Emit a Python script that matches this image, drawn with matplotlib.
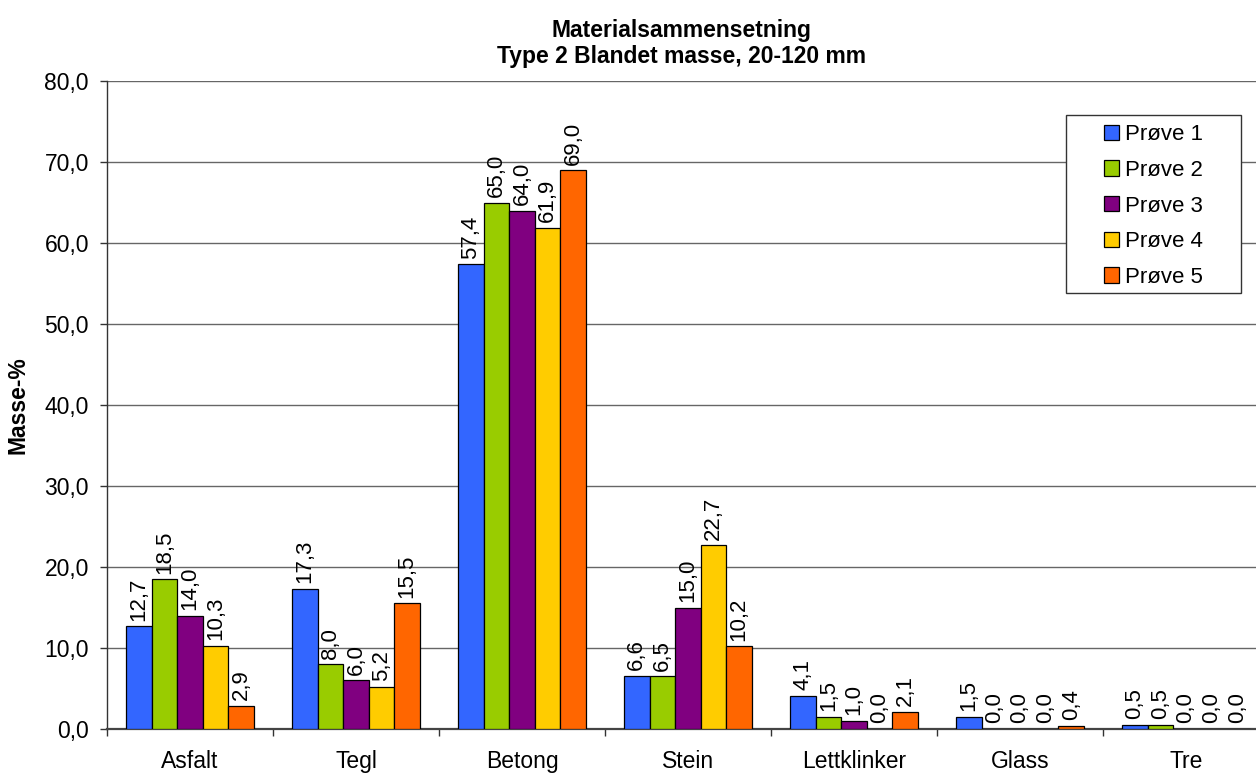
import numpy as np
import matplotlib
matplotlib.use("Agg")
import matplotlib.pyplot as plt
from matplotlib.patches import Rectangle

plt.rcParams['font.family'] = ['Liberation Sans', 'DejaVu Sans']

# Data
kategorier = ['Asfalt', 'Tegl', 'Betong', 'Stein', 'Lettklinker', 'Glass', 'Tre']
serier = ['Prøve 1', 'Prøve 2', 'Prøve 3', 'Prøve 4', 'Prøve 5']
prove1 = [12.7, 17.3, 57.4, 6.6, 4.1, 1.5, 0.5]
prove2 = [18.5, 8.0, 65.0, 6.5, 1.5, 0.0, 0.5]
prove3 = [14.0, 6.0, 64.0, 15.0, 1.0, 0.0, 0.0]
prove4 = [10.3, 5.2, 61.9, 22.7, 0.0, 0.0, 0.0]
prove5 = [2.9, 15.5, 69.0, 10.2, 2.1, 0.4, 0.0]
verdier = [prove1, prove2, prove3, prove4, prove5]
farger = ['#3366FF', '#99CC00', '#800080', '#FFCC00', '#FF6600']

yticks = np.arange(0, 81, 10)


def fmt(v):
    return f"{v:.1f}".replace('.', ',')


W, H = 1256, 775
fig = plt.figure(figsize=(W / 100, H / 100), dpi=100)
# plottområdet går litt forbi høyre kant (som i originalen)
ax = fig.add_axes([107 / W, 1 - 729 / H, (1269 - 107) / W, (729 - 81) / H])

x = np.arange(len(kategorier))
bw = 0.154
for i, (navn, vals, c) in enumerate(zip(serier, verdier, farger)):
    pos = x + (i - 2) * bw
    ax.bar(pos, vals, bw, color=c, edgecolor='black', linewidth=0.9, label=navn, zorder=3)
    for px, v in zip(pos, vals):
        ax.annotate(fmt(v), (px, v), xytext=(0, 4), textcoords='offset points',
                    rotation=90, ha='center', va='bottom', fontsize=16, zorder=4)

ax.set_xlim(-0.5, len(kategorier) - 0.5)
ax.set_ylim(0, 80)
ax.set_yticks(yticks)
ax.set_yticklabels([fmt(v) for v in yticks], fontsize=16.5)
ax.yaxis.grid(True, color='#666666', linewidth=1.0, zorder=0)
ax.set_axisbelow(True)

ax.set_xticks(np.arange(len(kategorier) + 1) - 0.5)
ax.set_xticklabels([])
ax.set_xticks(x, minor=True)
ax.set_xticklabels(kategorier, minor=True, fontsize=16.5)
ax.tick_params(axis='x', which='minor', length=0, pad=15)
ax.tick_params(axis='x', which='major', length=5, direction='out', width=1, color='#333333')
ax.tick_params(axis='y', length=5, direction='out', width=1, pad=8, color='#333333')

for s in ['top', 'right']:
    ax.spines[s].set_visible(False)
ax.spines['left'].set_linewidth(1)
ax.spines['left'].set_color('#333333')
ax.spines['bottom'].set_linewidth(1.6)
ax.spines['bottom'].set_color('#444444')

ax.set_ylabel('Masse-%', fontsize=16.5, fontweight='bold', labelpad=11)
fig.text((107 + 1256) / 2 / W, 1 - 63 / H,
         'Materialsammensetning\nType 2 Blandet masse, 20-120 mm',
         ha='center', va='baseline', fontsize=16.5, fontweight='bold', linespacing=1.15,
         multialignment='center')

# Legend med egen ramme
fig.patches.append(Rectangle((1066 / W, 1 - 293 / H), (1241 - 1066) / W, (293 - 115) / H,
                             transform=fig.transFigure, facecolor='white',
                             edgecolor='#333333', linewidth=1, zorder=5))
leg = fig.legend(*ax.get_legend_handles_labels(), loc='center',
                 bbox_to_anchor=((1066 + 1241) / 2 / W, 1 - 206 / H),
                 fontsize=16, frameon=False, handlelength=0.68, handleheight=0.68,
                 handletextpad=0.3, labelspacing=0.66, borderpad=0, borderaxespad=0)
leg.set_zorder(6)

fig.savefig('out.png', dpi=100)
